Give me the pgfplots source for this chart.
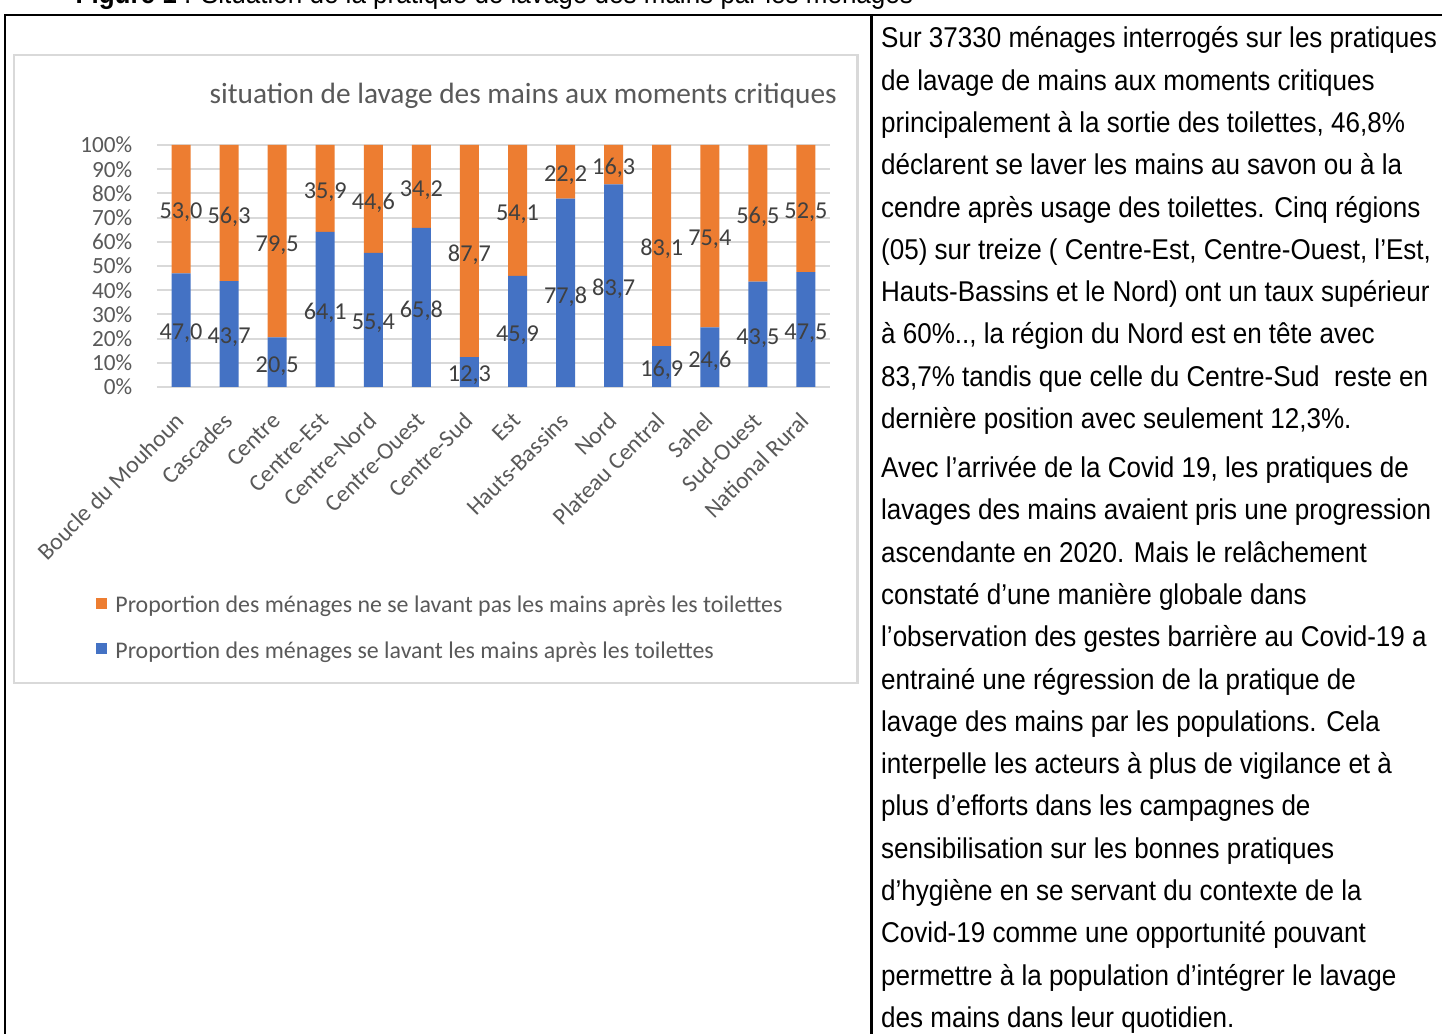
\documentclass[border=0pt]{standalone}
\usepackage{fontspec}
\usepackage{pgfplots}
\usepackage{pgfplotstable}
\pgfplotsset{compat=1.18}

\newfontfamily\calibri{Carlito}
\newfontfamily\arialn[FakeStretch=0.91]{Liberation Sans}

\definecolor{barblue}{HTML}{4472C4}
\definecolor{barorange}{HTML}{ED7D31}
\definecolor{gridgray}{HTML}{D9D9D9}
\definecolor{txtgray}{HTML}{595959}
\definecolor{lblgray}{HTML}{404040}

\pgfplotsset{sqlegend/.style={legend image code/.code={\fill[##1] (0cm,-0.015cm) rectangle (0.11cm,0.095cm);}}}

% se lavant / ne se lavant pas (%)
\pgfplotstableread{
x  blue orange
0  47.0 53.0
1  43.7 56.3
2  20.5 79.5
3  64.1 35.9
4  55.4 44.6
5  65.8 34.2
6  12.3 87.7
7  45.9 54.1
8  77.8 22.2
9  83.7 16.3
10 16.9 83.1
11 24.6 75.4
12 43.5 56.5
13 47.5 52.5
}\lavage

\newcommand\bodyfont{\arialn\fontsize{8.14pt}{10pt}\selectfont}
\newcommand\bodyline[2]{\node[anchor=base west, inner sep=0pt, font=\bodyfont] at (881,#1) {#2};}

\begin{document}
\begin{tikzpicture}
\useasboundingbox (0,0) rectangle (14.42cm,-10.34cm);
\clip (0,0) rectangle (14.42cm,-10.34cm);
\fill[white] (0,0) rectangle (14.42cm,-10.34cm);

\begin{scope}[x=0.01cm, y=-0.01cm]
% caption, cut by the page top
\node[anchor=base west, inner sep=0pt, font=\bodyfont] at (75,4)
  {\textbf{Figure 1} : Situation de la pratique de lavage des mains par les ménages};
% table rules
\draw[black, line width=0.6pt] (5,1040) -- (5,15) -- (1450,15);
\draw[black, line width=0.6pt] (872,15) -- (872,1040);
% chart frame
\draw[gridgray, line width=0.6pt, fill=white] (14,55) rectangle (858,683);
\node[anchor=base, inner sep=0pt, text=txtgray, font=\calibri\fontsize{8.35pt}{10pt}\selectfont]
  at (523.5,104) {situation de lavage des mains aux moments critiques};

% right column text
\bodyline{48}{Sur 37330 ménages interrogés sur les pratiques}
\bodyline{90.3}{de lavage de mains aux moments critiques}
\bodyline{132.6}{principalement à la sortie des toilettes, 46,8\%}
\bodyline{174.9}{déclarent se laver les mains au savon ou à la}
\bodyline{217.2}{cendre après usage des toilettes. Cinq régions}
\bodyline{259.5}{(05) sur treize ( Centre-Est, Centre-Ouest, l’Est,}
\bodyline{301.8}{Hauts-Bassins et le Nord) ont un taux supérieur}
\bodyline{344.1}{à 60\%.., la région du Nord est en tête avec}
\bodyline{386.4}{83,7\% tandis que celle du Centre-Sud\ \ reste en}
\bodyline{428.7}{dernière position avec seulement 12,3\%.}
\bodyline{478}{Avec l’arrivée de la Covid 19, les pratiques de}
\bodyline{520.3}{lavages des mains avaient pris une progression}
\bodyline{562.6}{ascendante en 2020. Mais le relâchement}
\bodyline{604.9}{constaté d’une manière globale dans}
\bodyline{647.2}{l’observation des gestes barrière au Covid-19 a}
\bodyline{689.5}{entrainé une régression de la pratique de}
\bodyline{731.8}{lavage des mains par les populations. Cela}
\bodyline{774.1}{interpelle les acteurs à plus de vigilance et à}
\bodyline{816.4}{plus d’efforts dans les campagnes de}
\bodyline{858.7}{sensibilisation sur les bonnes pratiques}
\bodyline{901}{d’hygiène en se servant du contexte de la}
\bodyline{943.3}{Covid-19 comme une opportunité pouvant}
\bodyline{985.6}{permettre à la population d’intégrer le lavage}
\bodyline{1027.9}{des mains dans leur quotidien.}
\end{scope}

\begin{axis}[
    at={(1.57cm,-3.87cm)}, anchor=south west,
    scale only axis, width=6.73cm, height=2.42cm,
    ybar stacked, bar width=0.19cm,
    xmin=-0.5, xmax=13.5, ymin=0, ymax=100,
    axis x line=bottom, axis y line=left,
    axis line style={draw=none},
    major tick length=0pt,
    /pgf/number format/assume math mode=true,
    ytick={0,10,...,100},
    yticklabel={\pgfmathprintnumber{\tick}\%},
    ymajorgrids,
    major grid style={gridgray, line width=0.57pt},
    xtick={0,...,13},
    xticklabels={Boucle du Mouhoun, Cascades, Centre, Centre-Est, Centre-Nord,
      Centre-Ouest, Centre-Sud, Est, Hauts-Bassins, Nord, Plateau Central,
      Sahel, Sud-Ouest, National Rural},
    xticklabel style={xshift=-0.005cm, yshift=-0.295cm, rotate=45, anchor=east,
      inner sep=0pt, text=txtgray, font=\calibri\fontsize{6.75pt}{8pt}\selectfont},
    yticklabel style={anchor=east, inner sep=0pt, text=txtgray,
      font=\calibri\fontsize{6.6pt}{8pt}\selectfont, xshift=-0.24cm},
    point meta=explicit,
    nodes near coords={\pgfmathprintnumber[fixed, fixed zerofill, precision=1, use comma]{\pgfplotspointmeta}},
    every node near coord/.append style={anchor=center, inner sep=0pt, text=lblgray,
      font=\calibri\fontsize{6.9pt}{8pt}\selectfont, yshift=-0.035cm},
    reverse legend,
    legend cell align=left,
    legend style={at={(axis description cs:-0.09,-0.865)}, anchor=north west,
      draw=none, fill=none, inner sep=0pt, outer sep=0pt, text=txtgray,
      font=\calibri\fontsize{6.8pt}{8pt}\selectfont,
      row sep=0.235cm, column sep=0.08cm, nodes={inner sep=0pt}},
]
\addplot[fill=barblue, draw=none, sqlegend]
  table[x=x, y=blue, meta=blue] {\lavage};
\addlegendentry{Proportion des ménages se lavant les mains après les toilettes}
\addplot[fill=barorange, draw=none, sqlegend]
  table[x=x, y=orange, meta=orange] {\lavage};
\addlegendentry{Proportion des ménages ne se lavant pas les mains après les toilettes}
\end{axis}
\end{tikzpicture}
\end{document}
